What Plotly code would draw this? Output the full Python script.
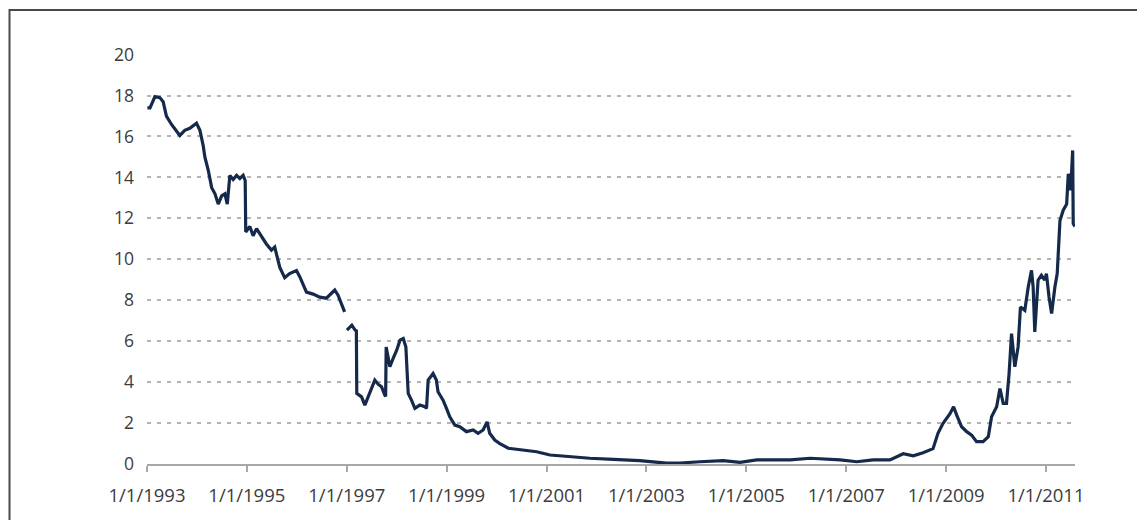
import plotly.graph_objects as go

dates = [
    "1993-01-04", "1993-01-23", "1993-02-28", "1993-04-05", "1993-04-29", "1993-05-23",
    "1993-06-28", "1993-08-04", "1993-08-29", "1993-10-04", "1993-11-10", "1993-12-29",
    "1994-01-23", "1994-02-16", "1994-02-28", "1994-03-25", "1994-04-19", "1994-05-13",
    "1994-06-06", "1994-07-01", "1994-07-25", "1994-08-11", "1994-08-30", "1994-09-23",
    "1994-10-18", "1994-11-11", "1994-12-05", "1994-12-20", "1994-12-24",
    "1995-01-23", "1995-02-16", "1995-03-13", "1995-04-18", "1995-05-24", "1995-06-30",
    "1995-07-24", "1995-08-30", "1995-10-05", "1995-11-10", "1995-12-30",
    "1996-01-23", "1996-02-16", "1996-03-12", "1996-04-30", "1996-06-17", "1996-08-05",
    "1996-09-23", "1996-10-05", "1996-10-29", "1996-11-22", "1996-12-16",
    "1996-12-24",
    "1997-01-02", "1997-02-07", "1997-03-03", "1997-03-12", "1997-03-15", "1997-04-19",
    "1997-05-13", "1997-06-06", "1997-06-30", "1997-07-25", "1997-08-18", "1997-09-12",
    "1997-10-06", "1997-10-12", "1997-10-16", "1997-11-12", "1997-12-06",
    "1998-01-01", "1998-01-25", "1998-02-18", "1998-03-09", "1998-03-26", "1998-04-19",
    "1998-05-14", "1998-06-19", "1998-07-26", "1998-08-07", "1998-08-19", "1998-09-24",
    "1998-10-18", "1998-10-30", "1998-12-06", "1998-12-31",
    "1999-01-24", "1999-03-02", "1999-04-07", "1999-05-26", "1999-07-14", "1999-08-19",
    "1999-09-25", "1999-10-24", "1999-11-12", "1999-12-19",
    "2000-01-25", "2000-03-27", "2000-07-15", "2000-10-20",
    "2001-01-26", "2001-05-27", "2001-11-13", "2002-05-04", "2002-11-13",
    "2003-05-29", "2003-09-03", "2004-01-27", "2004-07-15", "2004-11-15",
    "2005-03-18", "2005-11-17", "2006-04-13", "2006-11-18", "2007-03-19",
    "2007-07-17", "2007-11-17", "2008-02-22", "2008-05-05", "2008-07-16",
    "2008-09-27", "2008-11-02", "2008-12-08", "2009-01-30", "2009-02-24",
    "2009-03-19", "2009-04-24", "2009-05-31", "2009-07-06", "2009-08-11",
    "2009-09-28", "2009-11-05", "2009-11-29", "2010-01-05", "2010-01-29",
    "2010-02-22", "2010-03-18", "2010-04-06", "2010-04-24", "2010-05-18",
    "2010-06-11", "2010-06-28", "2010-07-30", "2010-08-24", "2010-09-17",
    "2010-09-29", "2010-10-11", "2010-11-04", "2010-11-28", "2010-12-23",
    "2011-01-04", "2011-01-23", "2011-02-11", "2011-03-07", "2011-03-24",
    "2011-04-13", "2011-05-07", "2011-06-01", "2011-06-13", "2011-06-30",
    "2011-07-07", "2011-07-15", "2011-07-19", "2011-07-31",
]

values = [
    17.4, 17.4, 17.95, 17.9, 17.7, 17.0,
    16.6, 16.3, 16.05, 16.3, 16.4, 16.65,
    16.3, 15.55, 15.0, 14.35, 13.5, 13.2,
    12.7, 13.1, 13.2, 12.7, 14.1, 13.9,
    14.1, 13.95, 14.1, 13.85, 11.33,
    11.6, 11.15, 11.5, 11.1, 10.75, 10.45,
    10.6, 9.6, 9.1, 9.3, 9.45,
    9.15, 8.8, 8.4, 8.3, 8.15, 8.1,
    8.4, 8.5, 8.25, 7.85, 7.43,
    None,
    6.54, 6.78, 6.54, 6.5, 3.45, 3.28,
    2.88, 3.28, 3.77, 4.1, 3.9, 3.77,
    3.37, 3.3, 5.72, 4.75, 5.16,
    5.56, 6.05, 6.13, 5.72, 3.45, 3.12,
    2.72, 2.88, 2.8, 2.72, 4.1, 4.42,
    4.1, 3.53, 3.12, 2.72,
    2.31, 1.9, 1.82, 1.58, 1.66, 1.5,
    1.66, 2.06, 1.5, 1.17,
    1.0, 0.77, 0.68, 0.6,
    0.44, 0.36, 0.28, 0.23, 0.16,
    0.04, 0.05, 0.11, 0.16, 0.08,
    0.2, 0.2, 0.28, 0.2, 0.11,
    0.2, 0.2, 0.5, 0.4, 0.55,
    0.75, 1.5, 1.98, 2.47, 2.8,
    2.39, 1.82, 1.58, 1.41, 1.09,
    1.09, 1.33, 2.31, 2.8, 3.69,
    2.96, 2.96, 4.42, 6.37, 4.75,
    5.72, 7.67, 7.51, 8.65, 9.46,
    8.65, 6.45, 8.98, 9.22, 8.98,
    9.3, 8.16, 7.35, 8.65, 9.3,
    11.9, 12.4, 12.7, 14.18, 13.37,
    14.67, 15.32, 11.74, 11.6,
]

tick_vals = ["1993-01-01", "1995-01-01", "1997-01-01", "1999-01-01", "2001-01-01",
             "2003-01-01", "2005-01-01", "2007-01-01", "2009-01-01", "2011-01-01"]
tick_text = ["1/1/1993", "1/1/1995", "1/1/1997", "1/1/1999", "1/1/2001",
             "1/1/2003", "1/1/2005", "1/1/2007", "1/1/2009", "1/1/2011"]
y_ticks = [0, 2, 4, 6, 8, 10, 12, 14, 16, 18, 20]

fig = go.Figure()
fig.add_trace(go.Scatter(
    x=dates, y=values, mode="lines",
    line=dict(color="#15294a", width=3.2),
    connectgaps=False, showlegend=False,
))

yfont = dict(family="Open Sans, sans-serif", size=17.5, color="#3c3c3c")
xfont = dict(family="Open Sans, sans-serif", size=18.5, color="#3c3c3c")

fig.update_layout(
    width=1137, height=512,
    margin=dict(l=139, r=70, t=46, b=56),
    paper_bgcolor="white", plot_bgcolor="white",
    font=yfont,
    xaxis=dict(
        type="date",
        range=["1993-01-01", "2011-08-01"],
        tickvals=tick_vals, ticktext=tick_text,
        showgrid=False, zeroline=False,
        showline=True, linecolor="#a8a8a8", linewidth=2,
        ticks="outside", ticklen=6, tickcolor="#a8a8a8", tickwidth=2,
        ticklabelstandoff=8,
        tickfont=xfont,
    ),
    yaxis=dict(
        range=[0, 20.03],
        tickvals=y_ticks,
        showgrid=True, gridcolor="#b4b4b4", gridwidth=1.5, griddash="4px,6px",
        zeroline=False, showline=False, ticks="",
        ticklabelstandoff=12,
        tickfont=yfont,
    ),
    shapes=[dict(
        type="rect", xref="paper", yref="paper",
        x0=(9.5 - 147) / 928, x1=1.2, y0=-0.3, y1=(464 - 10) / 410,
        line=dict(color="#4a4a4a", width=2), fillcolor="rgba(0,0,0,0)",
        layer="below",
    )],
)

fig.write_html("out.html")
